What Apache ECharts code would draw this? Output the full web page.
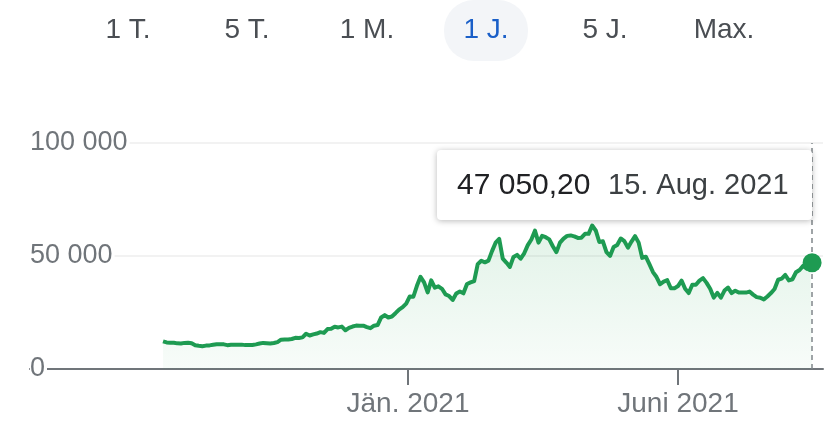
<!DOCTYPE html>
<html>
<head>
<meta charset="utf-8">
<script src="https://cdn.jsdelivr.net/npm/echarts@6/dist/echarts.min.js"></script>
<style>
html,body{margin:0;padding:0;background:#fff;}
#chart{width:838px;height:432px;}
</style>
</head>
<body>
<div id="chart"></div>
<script>
// ---- data ----
const rangeTabs = ['1 T.', '5 T.', '1 M.', '1 J.', '5 J.', 'Max.'];
const activeTab = '1 J.';
const yTickValues = [0, 50000, 100000];
const yTickLabels = ['0', '50 000', '100 000'];
const xTickDates = ['2021-01-01', '2021-06-01'];
const xTickLabels = ['Jän. 2021', 'Juni 2021'];
const monthAbbr = ['Jän.', 'Feb.', 'März', 'Apr.', 'Mai', 'Juni', 'Juli', 'Aug.', 'Sep.', 'Okt.', 'Nov.', 'Dez.'];

const dates = [
  '2020-08-17','2020-08-19','2020-08-21','2020-08-23','2020-08-25','2020-08-27','2020-08-29','2020-08-31',
  '2020-09-02','2020-09-04','2020-09-06','2020-09-08','2020-09-10','2020-09-12','2020-09-14','2020-09-16','2020-09-18','2020-09-20','2020-09-22','2020-09-24','2020-09-26','2020-09-28','2020-09-30',
  '2020-10-02','2020-10-04','2020-10-06','2020-10-08','2020-10-10','2020-10-12','2020-10-14','2020-10-16','2020-10-18','2020-10-20','2020-10-22','2020-10-24','2020-10-26','2020-10-28','2020-10-30',
  '2020-11-01','2020-11-03','2020-11-05','2020-11-07','2020-11-09','2020-11-11','2020-11-13','2020-11-15','2020-11-17','2020-11-19','2020-11-21','2020-11-23','2020-11-25','2020-11-27','2020-11-29',
  '2020-12-01','2020-12-03','2020-12-05','2020-12-07','2020-12-09','2020-12-11','2020-12-13','2020-12-15','2020-12-17','2020-12-19','2020-12-21','2020-12-23','2020-12-25','2020-12-27','2020-12-29','2020-12-31',
  '2021-01-02','2021-01-04','2021-01-06','2021-01-08','2021-01-10','2021-01-12','2021-01-14','2021-01-16','2021-01-18','2021-01-20','2021-01-22','2021-01-24','2021-01-26','2021-01-28','2021-01-30',
  '2021-02-01','2021-02-03','2021-02-05','2021-02-07','2021-02-09','2021-02-11','2021-02-13','2021-02-15','2021-02-17','2021-02-19','2021-02-21','2021-02-23','2021-02-25','2021-02-27',
  '2021-03-01','2021-03-03','2021-03-05','2021-03-07','2021-03-09','2021-03-11','2021-03-13','2021-03-15','2021-03-17','2021-03-19','2021-03-21','2021-03-23','2021-03-25','2021-03-27','2021-03-29','2021-03-31',
  '2021-04-02','2021-04-04','2021-04-06','2021-04-08','2021-04-10','2021-04-12','2021-04-14','2021-04-16','2021-04-18','2021-04-20','2021-04-22','2021-04-24','2021-04-26','2021-04-28','2021-04-30',
  '2021-05-02','2021-05-04','2021-05-06','2021-05-08','2021-05-10','2021-05-12','2021-05-14','2021-05-16','2021-05-18','2021-05-20','2021-05-22','2021-05-24','2021-05-26','2021-05-28','2021-05-30',
  '2021-06-01','2021-06-03','2021-06-05','2021-06-07','2021-06-09','2021-06-11','2021-06-13','2021-06-15','2021-06-17','2021-06-19','2021-06-21','2021-06-23','2021-06-25','2021-06-27','2021-06-29',
  '2021-07-01','2021-07-03','2021-07-05','2021-07-07','2021-07-09','2021-07-11','2021-07-13','2021-07-15','2021-07-17','2021-07-19','2021-07-21','2021-07-23','2021-07-25','2021-07-27','2021-07-29','2021-07-31',
  '2021-08-02','2021-08-04','2021-08-06','2021-08-08','2021-08-10','2021-08-12','2021-08-14','2021-08-15'
];

const prices = [
  12250, 11750, 11650, 11650, 11350, 11300, 11550, 11650,
  11400, 10500, 10250, 10100, 10350, 10450, 10700, 10950, 10950, 10900, 10550, 10750, 10720, 10700, 10780,
  10570, 10670, 10600, 10900, 11300, 11550, 11430, 11320, 11500, 11900, 12980, 13030, 13070, 13270, 13800,
  13740, 14000, 15600, 14830, 15310, 15700, 16300, 15980, 17680, 17800, 18680, 18400, 18760, 17150, 18200,
  18800, 19200, 19150, 19190, 18550, 18060, 19170, 19430, 22800, 23860, 22800, 23240, 24700, 26300, 27360, 28950,
  32130, 31970, 36800, 40800, 38350, 33900, 39200, 36000, 36600, 35500, 33000, 32290, 30570, 33400, 34300,
  33500, 37600, 38300, 38900, 46400, 47900, 47200, 47940, 52150, 55900, 57540, 48820, 47100, 45200,
  49600, 50500, 48800, 51200, 54800, 57300, 61200, 55900, 58900, 58300, 57350, 54300, 51700, 55900, 57700, 58900,
  59100, 58700, 58000, 58100, 59800, 59800, 63500, 61300, 56200, 56500, 51700, 50050, 54000, 54900, 57750,
  56600, 53700, 56400, 58800, 55900, 49150, 49700, 46400, 42900, 40700, 37500, 38700, 39300, 35700, 35700,
  36700, 39100, 35500, 33600, 37300, 37300, 39100, 40200, 38100, 35500, 31600, 33700, 31600, 34700, 36000,
  33600, 34650, 33800, 33800, 33800, 34250, 32900, 31800, 31550, 30800, 32100, 33600, 35400, 39500, 40000, 41600,
  39200, 39700, 42800, 43800, 45600, 44400, 47000, 47050.2
];

// ---- helpers ----
const GREEN = '#1e9b52';
const FONT = 'Arial, "Liberation Sans", Helvetica, sans-serif';
function toTs(s){ const p = s.split('-').map(Number); return Date.UTC(p[0], p[1]-1, p[2]); }
function fmtNum(v){
  const parts = v.toFixed(2).split('.');
  return parts[0].replace(/\B(?=(\d{3})+(?!\d))/g, ' ') + ',' + parts[1];
}
function fmtDate(s){
  const p = s.split('-').map(Number);
  return p[2] + '. ' + monthAbbr[p[1]-1] + ' ' + p[0];
}
const seriesData = dates.map((d, i) => [toTs(d), prices[i]]);
const lastDate = dates[dates.length - 1];
const lastVal = prices[prices.length - 1];
const xTickTs = xTickDates.map(toTs);
const DAY = 864e5;
const jan1 = toTs('2021-01-01');

const chart = echarts.init(document.getElementById('chart'), null, {renderer: 'canvas'});

const tabCenters = [128, 247, 367, 486, 605, 724];
const graphics = [];
rangeTabs.forEach((t, i) => {
  if (t === activeTab) {
    graphics.push({type: 'rect', shape: {x: tabCenters[i] - 42, y: 0, width: 84, height: 61, r: 30},
      style: {fill: '#f3f5f8'}, z: 0});
  }
  graphics.push({type: 'text', x: tabCenters[i], y: 30, z: 1,
    style: {text: t, font: '28px ' + FONT, fill: t === activeTab ? '#1a5fc8' : '#4a4e53',
      align: 'center', verticalAlign: 'middle'}});
});
graphics.push({type: 'rect', shape: {x: 437, y: 150, width: 375, height: 70, r: 4},
  style: {fill: '#fff', shadowBlur: 6, shadowOffsetY: 1, shadowColor: 'rgba(0,0,0,0.28)'}, z: 20});
graphics.push({type: 'text', x: 457, y: 186, z: 21,
  style: {text: fmtNum(lastVal), font: '30px ' + FONT, fill: '#202124', verticalAlign: 'middle'}});
graphics.push({type: 'text', x: 608, y: 186, z: 21,
  style: {text: fmtDate(lastDate), font: '29px ' + FONT, fill: '#3c4043', verticalAlign: 'middle'}});

const option = {
  animation: false,
  backgroundColor: '#fff',
  grid: {left: 30, right: 15, top: 143, bottom: 63, containLabel: false},
  xAxis: {
    type: 'value',
    min: jan1 - 211.4 * DAY,
    max: jan1 + 232.1 * DAY,
    axisLine: {show: true, lineStyle: {color: '#70757a', width: 2}},
    axisTick: {show: true, customValues: xTickTs, length: 16, lineStyle: {color: '#70757a', width: 2}},
    axisLabel: {
      customValues: xTickTs,
      margin: 21,
      fontSize: 28, fontFamily: FONT, color: '#70757a',
      formatter: function (v) {
        const i = xTickTs.findIndex(t => Math.abs(t - v) < DAY);
        return i >= 0 ? xTickLabels[i] : '';
      }
    },
    splitLine: {show: false}
  },
  yAxis: {
    type: 'value',
    min: 0, max: 100000, interval: 50000,
    axisLine: {show: false},
    axisTick: {show: false},
    splitLine: {show: true, lineStyle: {color: '#eeeeee', width: 1.5}},
    axisLabel: {
      inside: true, margin: 0, align: 'left', verticalAlign: 'middle',
      fontSize: 27, fontFamily: FONT, color: '#70757a',
      backgroundColor: '#fff', padding: [4, 2, 0, 0],
      formatter: function (v) {
        const i = yTickValues.indexOf(v);
        return i >= 0 ? yTickLabels[i] : '';
      }
    }
  },
  series: [
    {
      type: 'line',
      data: seriesData,
      showSymbol: false,
      symbol: 'none',
      lineStyle: {color: GREEN, width: 4, join: 'round'},
      areaStyle: {
        color: new echarts.graphic.LinearGradient(0, 0, 0, 1, [
          {offset: 0, color: 'rgba(46,168,90,0.2)'},
          {offset: 1, color: 'rgba(46,168,90,0.05)'}
        ])
      },
      markLine: {
        silent: true,
        symbol: 'none',
        label: {show: false},
        lineStyle: {color: '#80868b', type: [5, 4], width: 1.5},
        data: [{xAxis: toTs(lastDate)}]
      },
      z: 3
    },
    {
      type: 'scatter',
      data: [[toTs(lastDate), lastVal]],
      symbol: 'circle',
      symbolSize: 19,
      itemStyle: {color: GREEN, opacity: 1},
      z: 5
    }
  ],
  graphic: graphics
};
chart.setOption(option);
</script>
</body>
</html>
